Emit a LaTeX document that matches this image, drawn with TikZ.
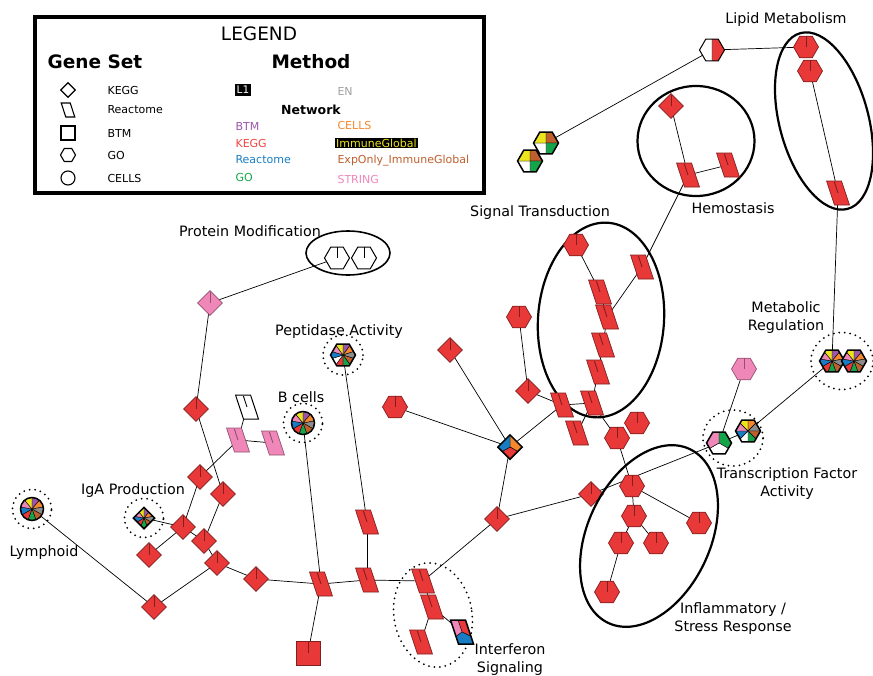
\documentclass[tikz,border=0pt]{standalone}
\usepackage{fontspec}
\setmainfont{DejaVu Sans}
\usetikzlibrary{shapes.geometric, backgrounds}

\definecolor{nodered}{RGB}{233,56,56}
\definecolor{cBTM}{RGB}{155,85,170}
\definecolor{cKEGG}{RGB}{240,70,70}
\definecolor{cReact}{RGB}{25,125,195}
\definecolor{cGO}{RGB}{20,165,75}
\definecolor{cCells}{RGB}{245,135,45}
\definecolor{cImm}{RGB}{235,228,30}
\definecolor{cExp}{RGB}{190,95,45}
\definecolor{cString}{RGB}{240,135,185}
\definecolor{cEN}{RGB}{160,160,160}
\definecolor{ngray}{RGB}{140,140,140}

\begin{document}
\begin{tikzpicture}[
    x=1pt, y=-1pt,
    font=\fontsize{14.3}{18}\selectfont,
    % gene set shapes
    dia/.style={diamond, minimum size=25pt, inner sep=0pt},
    hexa/.style={regular polygon, regular polygon sides=6, minimum size=25pt, inner sep=0pt},
    para/.style={rectangle, minimum width=15pt, minimum height=24pt, inner sep=0pt, xslant=-0.33, transform shape},
    sq/.style={rectangle, minimum size=24pt, inner sep=0pt},
    circ/.style={circle, minimum size=23pt, inner sep=0pt},
    % looks
    stub/.style={path picture={\draw[line width=0.9pt] (path picture bounding box.center) -- ++(0pt,11pt);}},
    hit/.style={fill=nodered, draw=nodered!55!black, line width=0.7pt, stub},
    pinkhit/.style={fill=cString, draw=cString!60!black, line width=0.7pt, stub},
    blank/.style={fill=white, draw=black, line width=1pt, stub},
    multi/.style={draw=black, line width=1.5pt},
    pie/.style 2 args={path picture={
        \foreach \c [count=\i from 0] in {#2}
          \filldraw[fill=\c, draw=black, line width=0.4pt] (path picture bounding box.center)
            -- ++({90-\i*360/#1}:20pt) arc[start angle={90-\i*360/#1}, delta angle={-360/#1}, radius=20pt] -- cycle;
    }},
    allpie/.style={pie={9}{cBTM,cCells,ngray,cExp,cGO,nodered,cReact,cString,cImm}},
    group/.style={draw, ellipse, line width=2.2pt, inner sep=0pt},
    ring/.style={draw, ellipse, line width=2pt, dash pattern=on 0pt off 5.5pt, line cap=round, inner sep=0pt},
    link/.style={line width=0.7pt},
    lbl/.style={align=center},
    legtext/.style={anchor=west, font=\fontsize{11}{12}\selectfont},
    legshape/.style={draw=black, fill=white, line width=1.1pt, inner sep=0pt},
]
\useasboundingbox (0,0) rectangle (873,675);

% Legend
\node[draw, line width=4pt, minimum width=449pt, minimum height=176pt] (legend) at (259.5,105) {};
\node[font=\fontsize{18.5}{20}\selectfont] (legtitle) at (259,34) {LEGEND};
\node[font=\fontsize{18.5}{20}\selectfont\bfseries] (gstitle) at (95,62) {Gene Set};
\node[font=\fontsize{18.5}{20}\selectfont\bfseries] (mtitle) at (311,62) {Method};
\node[legshape, diamond, minimum size=15pt] (lgkegg) at (68,90) {};
\node[legshape, rectangle, minimum width=9pt, minimum height=14pt, xslant=-0.33, transform shape] (lgreact) at (68,110) {};
\node[legshape, rectangle, minimum size=14pt] (lgbtm) at (68,133) {};
\node[legshape, regular polygon, regular polygon sides=6, minimum size=15pt] (lggo) at (68,155) {};
\node[legshape, circle, minimum size=14pt] (lgcells) at (68,178) {};
\node[legtext] at (104,90) {KEGG};
\node[legtext] at (104,110) {Reactome};
\node[legtext] at (104,133) {BTM};
\node[legtext] at (104,155) {GO};
\node[legtext] at (104,178) {CELLS};
\node[fill=black, text=white, inner sep=1.8pt, font=\fontsize{10.5}{11}\selectfont] (lgl1) at (243,90) {L1};
\node[legtext, text=cEN] at (334,91) {EN};
\node[font=\fontsize{12.5}{14}\selectfont\bfseries] (nettitle) at (311,110) {Network};
\node[legtext, text=cBTM] at (232,126) {BTM};
\node[legtext, text=cKEGG] at (232,143) {KEGG};
\node[legtext, text=cReact] at (232,160) {Reactome};
\node[legtext, text=cGO] at (232,177) {GO};
\node[legtext, text=cCells] at (334,125) {CELLS};
\node[legtext, text=cImm, fill=black, inner sep=1pt] at (335,143) {ImmuneGlobal};
\node[legtext, text=cExp] at (334,161) {ExpOnly\_ImmuneGlobal};
\node[legtext, text=cString] at (334,179) {STRING};

% Lipid Metabolism
\node[group, minimum width=89pt, minimum height=182pt, rotate=15] (lipid) at (824,121) {};
\node[lbl] (lipidlbl) at (786,20) {Lipid Metabolism};
\node[hexa, hit] (lm1) at (806,47) {};
\node[hexa, hit] (lm2) at (810,71) {};
\node[para, hit] (lm3) at (838,193) {};
\node[hexa, multi, line width=1pt, pie={2}{nodered,white}] (hw) at (712,50) {};
\node[hexa, multi, pie={4}{cExp,cGO,white,cImm}] (qa) at (546,143) {};
\node[hexa, multi, pie={4}{cExp,cGO,white,cImm}] (qb) at (530,161) {};

% Hemostasis
\node[group, minimum width=117pt, minimum height=110pt] (hemo) at (696,141) {};
\node[lbl] (hemolbl) at (733,208) {Hemostasis};
\node[dia, hit] (hm1) at (671,106) {};
\node[para, hit] (hm2) at (688,175) {};
\node[para, hit] (hm3) at (728,165) {};

% Signal Transduction
\node[group, minimum width=126pt, minimum height=195pt, rotate=-4] (signal) at (601,320) {};
\node[lbl] (signallbl) at (540,213) {Signal Transduction};
\node[hexa, hit] (st1) at (576,245) {};
\node[para, hit] (st2) at (642,267) {};
\node[para, hit] (st3) at (600,292) {};
\node[para, hit] (st4) at (607,317) {};
\node[para, hit] (st5) at (603,345) {};
\node[para, hit] (st6) at (598,372) {};
\node[para, hit] (st7) at (592,403) {};
\node[para, hit] (st8) at (562,405) {};
\node[para, hit] (st9) at (577,433) {};
\node[hexa, hit] (sx1) at (519,317) {};
\node[dia, hit] (sd1) at (528,391) {};
\node[hexa, hit] (sx2) at (617,438) {};
\node[hexa, hit] (sx3) at (637,423) {};

% centre
\node[dia, multi, pie={3}{cCells,nodered,cReact}] (md) at (510,447) {};
\node[dia, hit] (cd1) at (450,350) {};
\node[hexa, hit] (cx1) at (395,407) {};
\node[dia, hit] (cd2) at (497,519) {};
\node[dia, hit] (cd3) at (591,494) {};

% Inflammatory / Stress Response
\node[group, minimum width=123pt, minimum height=192pt, rotate=-25] (inflam) at (649,536) {};
\node[lbl] (inflamlbl) at (733,619) {Inflammatory /\\Stress Response};
\node[hexa, hit] (in1) at (632,486) {};
\node[hexa, hit] (in2) at (634,516) {};
\node[hexa, hit] (in3) at (699,523) {};
\node[hexa, hit] (in4) at (621,543) {};
\node[hexa, hit] (in5) at (656,543) {};
\node[hexa, hit] (in6) at (607,592) {};

% Transcription Factor Activity
\node[ring, minimum width=60pt, minimum height=56pt] (tfring) at (733,438) {};
\node[lbl] (tflbl) at (787,484) {Transcription Factor\\Activity};
\node[hexa, multi, pie={3}{cGO,white,cString}] (tf1) at (719,443) {};
\node[hexa, multi, pie={8}{cCells,ngray,cExp,cGO,white,cReact,cString,cImm}] (tf2) at (748,431) {};
\node[hexa, pinkhit] (tfp) at (744,369) {};

% Metabolic Regulation
\node[ring, minimum width=62pt, minimum height=57pt] (mrring) at (842,361) {};
\node[lbl] (mrlbl) at (786,318) {Metabolic\\Regulation};
\node[hexa, multi, allpie] (mr1) at (832,361) {};
\node[hexa, multi, allpie] (mr2) at (854,361) {};

% Protein Modification
\node[group, line width=1.6pt, minimum width=84pt, minimum height=44pt] (protein) at (348,253) {};
\node[lbl] (proteinlbl) at (250,231) {Protein Modification};
\node[hexa, blank] (pm1) at (337,258) {};
\node[hexa, blank] (pm2) at (364,258) {};
\node[dia, pinkhit] (pk) at (210,303) {};

% Peptidase Activity
\node[ring, minimum size=40pt] (pepring) at (343,355) {};
\node[lbl] (peplbl) at (339,332) {Peptidase Activity};
\node[hexa, multi, pie={10}{cBTM,cCells,ngray,cExp,cGO,nodered,white,cReact,cString,cImm}] (pep) at (343,355) {};

% B cells, IgA Production, Lymphoid
\node[ring, minimum size=39pt] (bcring) at (303,423) {};
\node[lbl] (bclbl) at (301,397) {B cells};
\node[circ, multi, allpie] (bc) at (303,423) {};
\node[ring, minimum size=39pt] (igaring) at (144,518) {};
\node[lbl] (igalbl) at (133,491) {IgA Production};
\node[dia, multi, minimum size=22pt, allpie] (iga) at (144,518) {};
\node[ring, minimum size=39pt] (lymring) at (32,509) {};
\node[lbl] (lymlbl) at (44,553) {Lymphoid};
\node[circ, multi, allpie] (lym) at (32,509) {};

% left branch
\node[dia, hit] (kd1) at (196,409) {};
\node[para, blank] (wp) at (247,407) {};
\node[para, pinkhit] (pp1) at (238,440) {};
\node[para, pinkhit] (pp2) at (273,443) {};
\node[dia, hit] (kd2) at (200,477) {};
\node[dia, hit] (kd3) at (223,494) {};
\node[dia, hit] (kd4) at (183,527) {};
\node[dia, hit] (kd5) at (204,541) {};
\node[dia, hit] (kd6) at (149,555) {};
\node[dia, hit] (kd7) at (217,563) {};
\node[dia, hit] (kd8) at (256,579) {};
\node[dia, hit] (kd9) at (154,607) {};
\node[para, hit] (rp1) at (321,584) {};
\node[sq, hit] (sq) at (308,653) {};
\node[para, hit] (rp2) at (367,522) {};
\node[para, hit] (rp3) at (367,580) {};

% Interferon Signaling
\node[ring, minimum width=78pt, minimum height=105pt, rotate=10] (ifring) at (433,615) {};
\node[lbl] (iflbl) at (510,660) {Interferon\\Signaling};
\node[para, hit] (if1) at (423,581) {};
\node[para, hit] (if2) at (432,607) {};
\node[para, hit] (if3) at (421,642) {};
\node[para, multi, pie={3}{nodered,cReact,cString}] (ifm) at (462,632) {};

% connectors
\begin{scope}[on background layer]
  \foreach \a/\b in {hw/lm1, hw/qa, lm2/lm3, lm3/mr1, hm1/hm2, hm2/hm3, hm2/st2,
      st1/st3, st2/st4, st3/st4, st4/st5, st5/st6, st6/st7, st7/st8, st7/st9, st7/sx2,
      sx2/in1, sx1/sd1, sd1/st8, st8/md, md/cd1, md/cx1, md/cd2, cd2/if1, cd2/cd3,
      cd3/tf1, in1/in2, in1/in3, in2/in4, in2/in5, in4/in6, tf1/tfp, tf1/tf2, tf2/mr1,
      pep/rp2, rp2/rp3, rp3/if1, if1/if2, if2/if3, if2/ifm, pm1/pk, pk/kd1, kd1/kd3,
      wp/pp1, pp1/pp2, pp1/kd2, kd2/kd4, kd3/kd5, iga/kd4, kd4/kd6, kd4/kd5, kd5/kd7,
      lym/kd9, kd9/kd7, kd7/kd8, kd8/rp1, bc/rp1, rp1/sq, rp1/rp3}
    \draw[link] (\a.center) -- (\b.center);
\end{scope}
\end{tikzpicture}
\end{document}
